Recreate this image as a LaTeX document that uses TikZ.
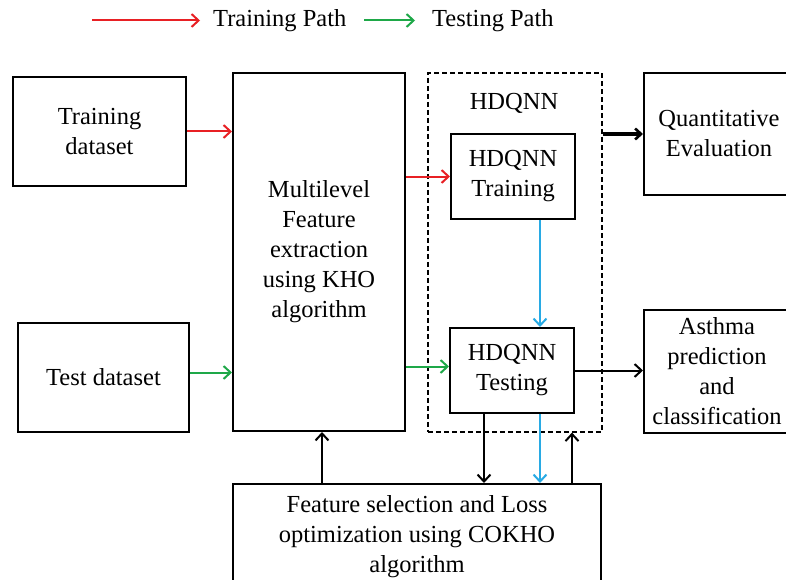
\documentclass[tikz,border=0pt]{standalone}
\usepackage{fontspec}
\setmainfont{Liberation Serif}
\usetikzlibrary{arrows.meta}
\definecolor{trainred}{RGB}{232,32,36}
\definecolor{testgreen}{RGB}{30,168,72}
\definecolor{linkblue}{RGB}{40,170,228}
\tikzset{
  blk/.style={draw, line width=2pt, inner sep=0pt, align=center, anchor=north west,
    font=\fontsize{24.5}{30}\selectfont},
  conn/.style={line width=2pt, -{Straight Barb[length=7pt,width=13pt,line width=2pt]}},
  thickconn/.style={line width=3.5pt, -{Straight Barb[length=6pt,width=11pt,line width=2.6pt]}},
  lbl/.style={font=\fontsize{24.5}{30}\selectfont, inner sep=0pt},
}
\begin{document}
\begin{tikzpicture}[x=1pt,y=-1pt]
\useasboundingbox (0,0) rectangle (786,580);
\clip (0,0) rectangle (786,580);
% legend
\coordinate (l1a) at (92,20.5);
\coordinate (l1b) at (200,20.5);
\node[lbl, anchor=west] (l1t) at (213,21) {Training Path};
\coordinate (l2a) at (364,20.5);
\coordinate (l2b) at (415,20.5);
\node[lbl, anchor=west] (l2t) at (432,21) {Testing Path};
\draw[conn, trainred] (l1a) -- (l1b);
\draw[conn, testgreen] (l2a) -- (l2b);
% boxes
\node[blk, minimum width=173pt, minimum height=109pt] (td) at (12,76) {Training\\dataset};
\node[blk, minimum width=171pt, minimum height=109pt] (tst) at (17,322) {Test dataset};
\node[blk, minimum width=172pt, minimum height=358pt] (ml) at (232,72) {Multilevel\\Feature\\extraction\\using KHO\\algorithm};
\node[draw, line width=1.6pt, dash pattern=on 5pt off 3pt, anchor=north west, minimum width=174pt, minimum height=359pt, inner sep=0pt] (hd) at (427,72) {};
\node[lbl] (hdl) at (514,103) {HDQNN};
\node[blk, minimum width=124pt, minimum height=85pt] (tr) at (450,133) {HDQNN\\Training};
\node[blk, minimum width=124pt, minimum height=85pt] (te) at (449,327) {HDQNN\\Testing};
\node[blk, minimum width=150pt, minimum height=122pt] (qe) at (643,72) {Quantitative\\Evaluation};
\node[blk, minimum width=146pt, minimum height=123pt] (as) at (643,309) {Asthma\\prediction\\and\\classification};
\node[blk, minimum width=368pt, minimum height=106pt] (fs) at (232,483) {Feature selection and Loss\\optimization using COKHO\\algorithm};
% connectors
\draw[conn, trainred] (td.east) -- (ml.west |- td.east);
\draw[conn, testgreen] (tst.east |- 0,372.5) -- (ml.west |- 0,372.5);
\draw[conn, trainred] (ml.east |- tr.west) -- (tr.west);
\draw[conn, testgreen] (ml.east |- 0,366.5) -- (te.west |- 0,366.5);
\draw[conn, linkblue] (540,0 |- tr.south) -- (540,0 |- te.north);
\draw[thickconn] (hd.east |- 0,134) -- (qe.west |- 0,134);
\draw[conn] (te.east) -- (as.west |- te.east);
\draw[conn] (484,0 |- te.south) -- (484,0 |- fs.north);
\draw[conn, linkblue] (540,0 |- te.south) -- (540,0 |- fs.north);
\draw[conn] (572,0 |- fs.north) -- (572,0 |- hd.south);
\draw[conn] (322,0 |- fs.north) -- (322,0 |- ml.south);
\end{tikzpicture}
\end{document}
